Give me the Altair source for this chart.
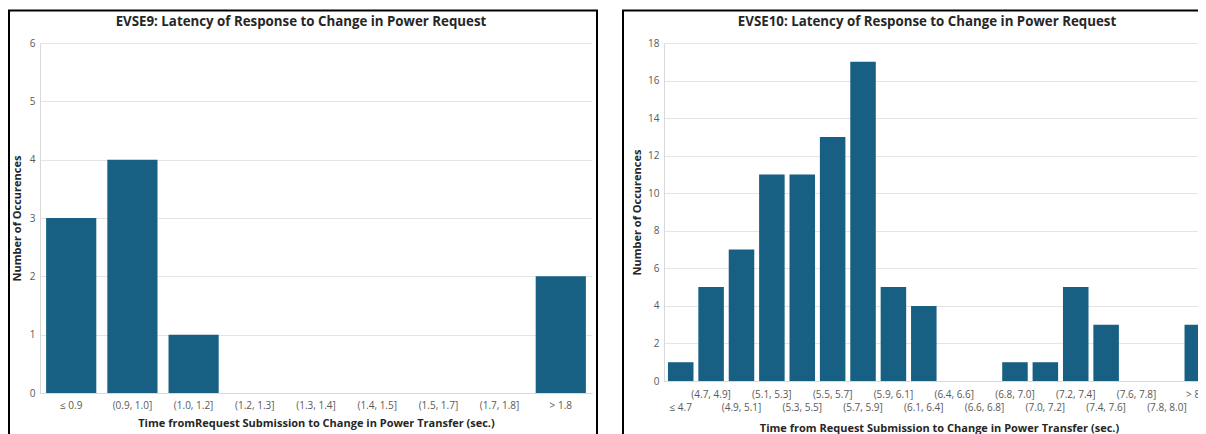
import json
import altair as alt
import pandas as pd

# ---- data ----
evse9_bins = ["≤ 0.9", "(0.9, 1.0]", "(1.0, 1.2]", "(1.2, 1.3]", "(1.3, 1.4]",
              "(1.4, 1.5]", "(1.5, 1.7]", "(1.7, 1.8]", "> 1.8"]
evse9_counts = [3, 4, 1, 0, 0, 0, 0, 0, 2]

evse10_bins = ["≤ 4.7", "(4.7, 4.9]", "(4.9, 5.1]", "(5.1, 5.3]", "(5.3, 5.5]",
               "(5.5, 5.7]", "(5.7, 5.9]", "(5.9, 6.1]", "(6.1, 6.4]", "(6.4, 6.6]",
               "(6.6, 6.8]", "(6.8, 7.0]", "(7.0, 7.2]", "(7.2, 7.4]", "(7.4, 7.6]",
               "(7.6, 7.8]", "(7.8, 8.0]", "> 8.0"]
evse10_counts = [1, 5, 7, 11, 11, 13, 17, 5, 4, 0, 0, 1, 1, 5, 3, 0, 0, 3]

evse9_yticks = [0, 1, 2, 3, 4, 5, 6]
evse10_yticks = [0, 2, 4, 6, 8, 10, 12, 14, 16, 18]

title9 = "EVSE9: Latency of Response to Change in Power Request"
title10 = "EVSE10: Latency of Response to Change in Power Request"
xtitle9 = "Time fromRequest Submission to Change in Power Transfer (sec.)"
xtitle10 = "Time from Request Submission to Change in Power Transfer (sec.)"
ytitle = "Number of Occurences"

BAR = "#176083"
FONT = "Open Sans"
LABEL = "#595959"
TITLEC = "#262626"
GRID = "#e4e4e4"


def panel(bins, counts, title, xtitle, yticks, W, H, pin, pout,
          frame, title_x, ytitle_x, xtitle_y, label_pad, label_expr=None):
    df = pd.DataFrame({"bin": bins, "count": counts})
    xaxis = dict(title=xtitle, labelAngle=0, labelFont=FONT, labelFontSize=10,
                 labelColor=LABEL, ticks=False, domainColor="#d9d9d9",
                 labelPadding=label_pad, titleFont=FONT, titleFontSize=11,
                 titleFontWeight="bold", titleColor=TITLEC, titleY=xtitle_y,
                 titleBaseline="middle", grid=False, labelLineHeight=13.5)
    if label_expr:
        xaxis["labelExpr"] = label_expr
    bars = alt.Chart(df).mark_bar(color=BAR).encode(
        x=alt.X("bin:N", sort=bins, axis=alt.Axis(**xaxis),
                scale=alt.Scale(paddingInner=pin, paddingOuter=pout)),
        y=alt.Y("count:Q",
                scale=alt.Scale(domain=[yticks[0], yticks[-1]], nice=False),
                axis=alt.Axis(title=ytitle, values=yticks, ticks=False,
                              labelFont=FONT, labelFontSize=10, labelColor=LABEL,
                              labelPadding=5, domainColor="#d9d9d9",
                              gridColor=GRID, titleFont=FONT, titleFontSize=11,
                              titleFontWeight="bold", titleColor=TITLEC,
                              titleX=ytitle_x, titleY=H / 2, titleAngle=-90,
                              titleBaseline="middle", titleAlign="center")),
    )
    one = alt.Data(values=[{}])
    box = alt.Chart(one).mark_rect(
        filled=False, stroke="black", strokeWidth=2, clip=False
    ).encode(x=alt.value(frame[0]), x2=alt.value(frame[1]),
             y=alt.value(frame[2]), y2=alt.value(frame[3]))
    head = alt.Chart(one).mark_text(
        font=FONT, fontSize=13.3, fontWeight="bold", color=TITLEC,
        align="center", baseline="middle", clip=False
    ).encode(x=alt.value(title_x), y=alt.value(-21), text=alt.value(title))
    return alt.layer(bars, box, head).properties(width=W, height=H)


top_row = [b for i, b in enumerate(evse10_bins) if i % 2 == 1]
expr10 = ("indexof(" + json.dumps(top_row, ensure_ascii=False) +
          ", datum.value) >= 0 ? [datum.label, ''] : ['', datum.label]")

left = panel(evse9_bins, evse9_counts, title9, xtitle9, evse9_yticks,
             552, 350, 0.18, 0.1, (-31, 557, -32.5, 420), 261, -23, 30, 7)
right = panel(evse10_bins, evse10_counts, title10, xtitle10, evse10_yticks,
              550, 338, 0.16, 0.13, (-41, 600, -32.5, 430), 263, -27, 47, 8,
              expr10)

chart = alt.hconcat(left, right, spacing=24).properties(
    autosize=alt.AutoSizeParams(type="none"),
    padding={"left": 32, "top": 35, "right": 1158, "bottom": 391},
).configure_view(strokeWidth=0)

chart.save("out.html", embed_options={"renderer": "svg", "actions": False})
